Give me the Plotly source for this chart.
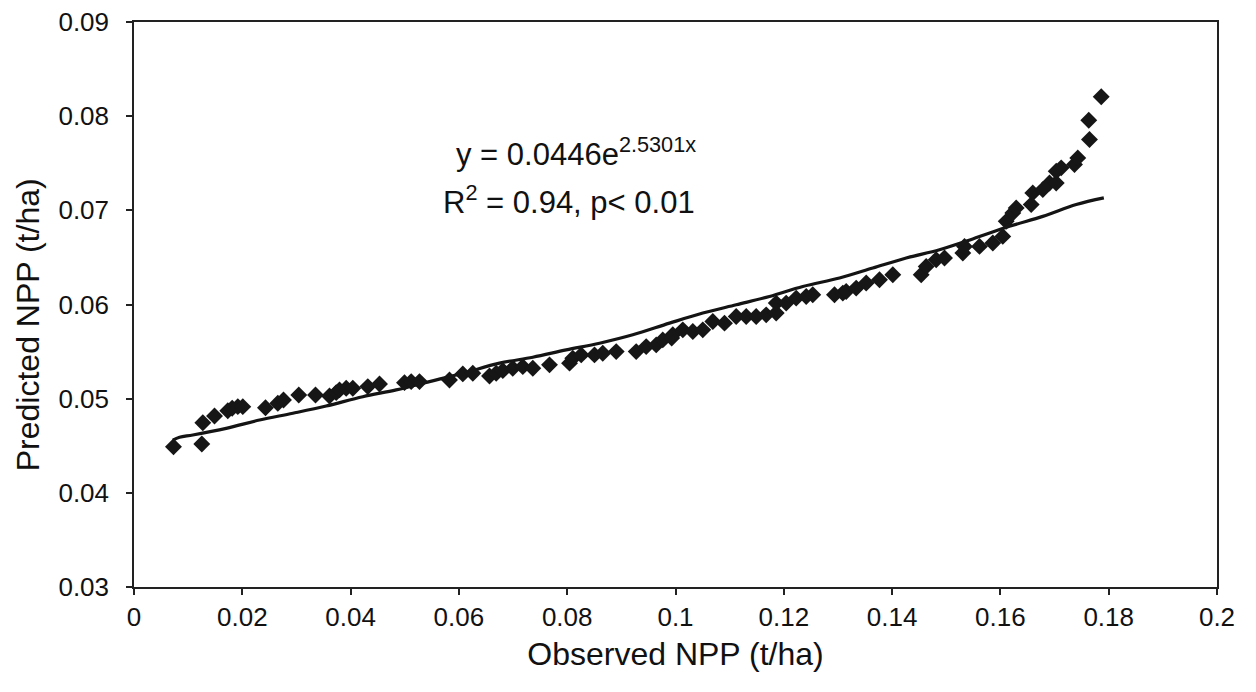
import plotly.graph_objects as go

# Observed vs predicted NPP (t/ha)
observed = [0.00729, 0.01252, 0.01271, 0.01487, 0.01732, 0.01813, 0.01917, 0.02009,
            0.02428, 0.02656, 0.02761, 0.03043, 0.03352, 0.03610, 0.03734, 0.03795,
            0.03919, 0.04041, 0.04318, 0.04534, 0.04995, 0.05119, 0.05272, 0.05826,
            0.06072, 0.06257, 0.06565, 0.06689, 0.06811, 0.06995, 0.07180, 0.07365,
            0.07673, 0.08043, 0.08103, 0.08259, 0.08504, 0.08657, 0.08905, 0.09274,
            0.09459, 0.09644, 0.09765, 0.09950, 0.09930, 0.10135, 0.10320, 0.10504,
            0.10689, 0.10905, 0.11121, 0.11306, 0.11490, 0.11675, 0.11860, 0.11860,
            0.12044, 0.12229, 0.12414, 0.12535, 0.12936, 0.13090, 0.13152, 0.13337,
            0.13522, 0.13767, 0.14013, 0.14537, 0.14630, 0.14814, 0.14968, 0.15306,
            0.15337, 0.15614, 0.15860, 0.16044, 0.16107, 0.16229, 0.16292, 0.16569,
            0.16598, 0.16783, 0.16907, 0.17031, 0.17031, 0.17123, 0.17368, 0.17429,
            0.17645, 0.17632, 0.17862]
predicted = [0.04489, 0.04518, 0.04745, 0.04816, 0.04872, 0.04898, 0.04915, 0.04915,
             0.04904, 0.04951, 0.04986, 0.05039, 0.05039, 0.05029, 0.05064, 0.05093,
             0.05110, 0.05110, 0.05128, 0.05156, 0.05170, 0.05181, 0.05181, 0.05199,
             0.05263, 0.05270, 0.05241, 0.05270, 0.05298, 0.05323, 0.05340, 0.05323,
             0.05359, 0.05377, 0.05430, 0.05465, 0.05465, 0.05483, 0.05500, 0.05500,
             0.05553, 0.05571, 0.05624, 0.05678, 0.05643, 0.05731, 0.05713, 0.05731,
             0.05819, 0.05802, 0.05872, 0.05872, 0.05872, 0.05890, 0.05909, 0.06015,
             0.06015, 0.06068, 0.06085, 0.06103, 0.06103, 0.06121, 0.06138, 0.06174,
             0.06228, 0.06263, 0.06316, 0.06316, 0.06404, 0.06476, 0.06494, 0.06547,
             0.06617, 0.06617, 0.06653, 0.06723, 0.06883, 0.06972, 0.07026, 0.07061,
             0.07185, 0.07220, 0.07291, 0.07291, 0.07415, 0.07451, 0.07486, 0.07557,
             0.07752, 0.07957, 0.08206]

# Exponential trend line as drawn in the chart
trend_x = [0.00717, 0.00840, 0.01086, 0.01703, 0.02318, 0.02933, 0.03549, 0.04225,
           0.04842, 0.05457, 0.06072, 0.06750, 0.07365, 0.07982, 0.08597, 0.09211,
           0.09889, 0.10504, 0.11121, 0.11736, 0.12351, 0.13029, 0.13644, 0.14260,
           0.14875, 0.15490, 0.16168, 0.16783, 0.17400, 0.17910]
trend_y = [0.04560, 0.04590, 0.04614, 0.04685, 0.04773, 0.04845, 0.04922, 0.05021,
           0.05093, 0.05181, 0.05270, 0.05377, 0.05440, 0.05518, 0.05589, 0.05678,
           0.05802, 0.05909, 0.05997, 0.06085, 0.06191, 0.06281, 0.06387, 0.06494,
           0.06582, 0.06696, 0.06830, 0.06936, 0.07061, 0.07132]

x_ticks = [0, 0.02, 0.04, 0.06, 0.08, 0.1, 0.12, 0.14, 0.16, 0.18, 0.2]
x_tick_labels = ["0", "0.02", "0.04", "0.06", "0.08", "0.1", "0.12", "0.14", "0.16", "0.18", "0.2"]
y_ticks = [0.03, 0.04, 0.05, 0.06, 0.07, 0.08, 0.09]
y_tick_labels = ["0.03", "0.04", "0.05", "0.06", "0.07", "0.08", "0.09"]

FONT = "Liberation Sans, Arial, sans-serif"

fig = go.Figure()
fig.add_trace(go.Scatter(
    x=trend_x, y=trend_y, mode="lines",
    line=dict(color="#141414", width=3.2, shape="spline"),
    hoverinfo="skip", showlegend=False,
))
fig.add_trace(go.Scatter(
    x=observed, y=predicted, mode="markers",
    marker=dict(symbol="diamond", size=13, color="#161616", line=dict(width=0)),
    showlegend=False,
))

fig.add_annotation(x=0.0817, y=0.0762, xref="x", yref="y",
                   text="y = 0.0446e<sup>2.5301x</sup>", showarrow=False,
                   font=dict(family=FONT, size=31, color="#111111"))
fig.add_annotation(x=0.0804, y=0.0711, xref="x", yref="y",
                   text="R<sup>2</sup> = 0.94, p< 0.01", showarrow=False,
                   font=dict(family=FONT, size=31, color="#111111"))
# y-axis title (placed to match the reference's slightly lowered position)
fig.add_annotation(x=0, xref="paper", xanchor="center", xshift=-106,
                   y=0.0578, yref="y", yanchor="middle",
                   text="Predicted NPP (t/ha)", textangle=-90, showarrow=False,
                   font=dict(family=FONT, size=32, color="#111111"))

axis_common = dict(
    showline=True, linecolor="#222222", linewidth=1.5, mirror=True,
    ticks="outside", tickcolor="#222222", ticklen=6, tickwidth=1.5,
    showgrid=False, zeroline=False,
    tickfont=dict(family=FONT, size=26, color="#111111"),
)

fig.update_layout(
    width=1256, height=692,
    paper_bgcolor="white", plot_bgcolor="white",
    margin=dict(l=134, r=39, t=22, b=105),
    xaxis=dict(range=[0, 0.2], tickvals=x_ticks, ticktext=x_tick_labels,
               title=dict(text="Observed NPP (t/ha)", standoff=12,
                          font=dict(family=FONT, size=32, color="#111111")),
               **axis_common),
    yaxis=dict(range=[0.03, 0.09], tickvals=y_ticks, ticktext=y_tick_labels,
               ticklabelstandoff=12, automargin=False,
               **axis_common),
)

fig.write_html("out.html")
